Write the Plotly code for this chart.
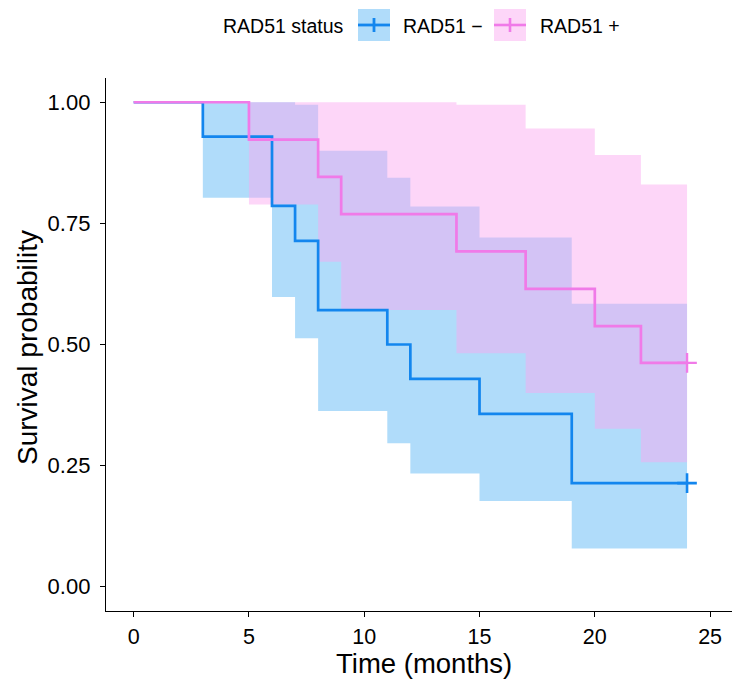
import plotly.graph_objects as go

# ---- Data ----
neg_time  = [0, 3, 6, 7, 8, 11, 12, 15, 19, 24]
neg_surv  = [1.0, 0.929, 0.786, 0.714, 0.571, 0.500, 0.429, 0.357, 0.214, 0.214]
neg_upper = [1.0, 1.0, 1.0, 0.995, 0.900, 0.844, 0.785, 0.721, 0.584, 0.584]
neg_lower = [1.0, 0.803, 0.598, 0.513, 0.363, 0.296, 0.234, 0.177, 0.079, 0.079]
neg_censor_time = [24]
neg_censor_surv = [0.214]

pos_time  = [0, 5, 8, 9, 14, 17, 20, 22, 24]
pos_surv  = [1.0, 0.923, 0.846, 0.769, 0.692, 0.615, 0.538, 0.462, 0.462]
pos_upper = [1.0, 1.0, 1.0, 1.0, 0.995, 0.946, 0.891, 0.830, 0.830]
pos_lower = [1.0, 0.789, 0.671, 0.571, 0.482, 0.400, 0.326, 0.257, 0.257]
pos_censor_time = [24]
pos_censor_surv = [0.462]

x_ticks = [0, 5, 10, 15, 20, 25]
y_ticks = [0.00, 0.25, 0.50, 0.75, 1.00]

legend_title = "RAD51 status"
legend_labels = ["RAD51 \u2212", "RAD51 +"]

# ---- Styles ----
BLUE = "#1386EE"
PINK = "#F07AE8"
BLUE_FILL = "rgba(22,152,240,0.34)"
PINK_FILL = "rgba(250,168,240,0.47)"
FONT = "Liberation Sans, Arial, sans-serif"

W, H = 732, 681
ML, MR, MT, MB = 106, 0, 78, 70
PW, PH = W - ML - MR, H - MT - MB


def px2x(px):
    return (px - ML) / PW


def px2y(py):
    return (H - MB - py) / PH


fig = go.Figure()

# confidence bands
for t, lo, up, fc in [(neg_time, neg_lower, neg_upper, BLUE_FILL),
                      (pos_time, pos_lower, pos_upper, PINK_FILL)]:
    fig.add_trace(go.Scatter(x=t, y=lo, mode="lines", line=dict(width=0, shape="hv"),
                             hoverinfo="skip", showlegend=False))
    fig.add_trace(go.Scatter(x=t, y=up, mode="lines", line=dict(width=0, shape="hv"),
                             fill="tonexty", fillcolor=fc, hoverinfo="skip", showlegend=False))

# survival curves
fig.add_trace(go.Scatter(x=neg_time, y=neg_surv, mode="lines",
                         line=dict(color=BLUE, width=2.7, shape="hv"), showlegend=False))
fig.add_trace(go.Scatter(x=pos_time, y=pos_surv, mode="lines",
                         line=dict(color=PINK, width=2.7, shape="hv"), showlegend=False))

# censor marks
fig.add_trace(go.Scatter(x=neg_censor_time, y=neg_censor_surv, mode="markers",
                         marker=dict(symbol="cross-thin", size=14, line=dict(color=BLUE, width=2.6)),
                         showlegend=False))
fig.add_trace(go.Scatter(x=pos_censor_time, y=pos_censor_surv, mode="markers",
                         marker=dict(symbol="cross-thin", size=14, line=dict(color=PINK, width=2.4)),
                         showlegend=False))

# ---- manual legend (ggplot-style keys) ----
shapes = []
annotations = []
annotations.append(dict(text=legend_title, x=px2x(346), y=px2y(26), xref="paper", yref="paper",
                        xanchor="right", yanchor="middle", showarrow=False,
                        font=dict(size=19.5, color="black", family=FONT)))
keys = [(358, 390, BLUE, BLUE_FILL, 401, legend_labels[0], 2.8),
        (494, 526, PINK, PINK_FILL, 538, legend_labels[1], 2.6)]
for x0, x1, lc, fc, tx, label, lw in keys:
    shapes.append(dict(type="rect", xref="paper", yref="paper",
                       x0=px2x(x0), x1=px2x(x1), y0=px2y(41), y1=px2y(9),
                       fillcolor=fc, line=dict(width=0), layer="above"))
    shapes.append(dict(type="line", xref="paper", yref="paper",
                       x0=px2x(x0), x1=px2x(x1), y0=px2y(25), y1=px2y(25),
                       line=dict(color=lc, width=lw), layer="above"))
    xm = (x0 + x1) / 2
    shapes.append(dict(type="line", xref="paper", yref="paper",
                       x0=px2x(xm), x1=px2x(xm), y0=px2y(18), y1=px2y(32),
                       line=dict(color=lc, width=lw), layer="above"))
    annotations.append(dict(text=label, x=px2x(tx), y=px2y(26), xref="paper", yref="paper",
                            xanchor="left", yanchor="middle", showarrow=False,
                            font=dict(size=19.5, color="black", family=FONT)))

# axis titles
annotations.append(dict(text="Time (months)", x=px2x(424), y=px2y(681), xref="paper", yref="paper",
                        xanchor="center", yanchor="bottom", showarrow=False,
                        font=dict(size=27.5, color="black", family=FONT)))
annotations.append(dict(text="Survival probability", x=px2x(27), y=px2y(348), xref="paper", yref="paper",
                        xanchor="center", yanchor="middle", showarrow=False, textangle=-90,
                        font=dict(size=28, color="black", family=FONT)))

fig.update_layout(
    width=W, height=H,
    margin=dict(l=ML, r=MR, t=MT, b=MB, pad=0),
    plot_bgcolor="white", paper_bgcolor="white",
    showlegend=False,
    shapes=shapes, annotations=annotations,
    font=dict(family=FONT, color="black"),
)
fig.update_xaxes(range=[-1.2, 25.95], tickvals=x_ticks, ticktext=[str(v) for v in x_ticks],
                 showgrid=False, zeroline=False, showline=True, linecolor="black", linewidth=1.3,
                 ticks="outside", ticklen=5, tickwidth=1.3, tickcolor="black",
                 ticklabelstandoff=1,
                 tickfont=dict(size=21.5, color="black", family=FONT))
fig.update_yaxes(range=[-0.05, 1.05], tickvals=y_ticks, ticktext=[f"{v:.2f}" for v in y_ticks],
                 showgrid=False, zeroline=False, showline=True, linecolor="black", linewidth=1.3,
                 ticks="outside", ticklen=5, tickwidth=1.3, tickcolor="black",
                 ticklabelstandoff=5,
                 tickfont=dict(size=22, color="black", family=FONT))

fig.write_html("out.html")
